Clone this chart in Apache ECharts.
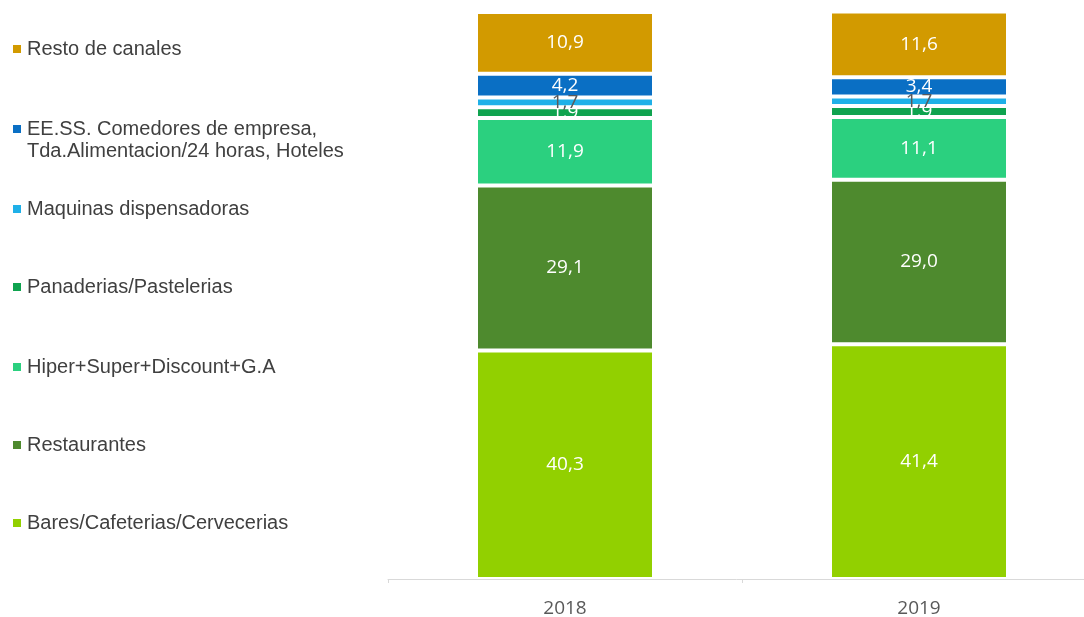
<!DOCTYPE html>
<html>
<head>
<meta charset="utf-8">
<script src="https://cdn.jsdelivr.net/npm/echarts@6/dist/echarts.min.js"></script>
<style>html,body{margin:0;padding:0;background:#fff;}#c{width:1084px;height:617px;}</style>
</head>
<body>
<div id="c"></div>
<script>
const years = ['2018', '2019'];
const seriesNames = [
  'Bares/Cafeterias/Cervecerias',
  'Restaurantes',
  'Hiper+Super+Discount+G.A',
  'Panaderias/Pastelerias',
  'Maquinas dispensadoras',
  'EE.SS. Comedores de empresa,\nTda.Alimentacion/24 horas, Hoteles',
  'Resto de canales'
];
const bares = [40.3, 41.4];
const restaurantes = [29.1, 29.0];
const hiper = [11.9, 11.1];
const panaderias = [1.9, 1.9];
const maquinas = [1.7, 1.7];
const eess = [4.2, 3.4];
const resto = [10.9, 11.6];

const values = [bares, restaurantes, hiper, panaderias, maquinas, eess, resto];
const colors = ['#92D000', '#4E8A2E', '#2BD07F', '#0FA34F', '#1FB0E8', '#0A6FC4', '#D29A00'];
const labelColors = ['#fff', '#fff', '#fff', '#fff', '#5a5a5a', '#fff', '#fff'];
const legendCenters = [523, 445, 367, 287, 209, 129, 49];

const chart = echarts.init(document.getElementById('c'), null, {renderer: 'canvas'});

const series = seriesNames.map((name, i) => ({
  name: name,
  type: 'bar',
  stack: 'total',
  barWidth: 178,
  data: values[i],
  itemStyle: {color: colors[i], borderColor: '#ffffff', borderWidth: 2},
  label: {
    show: true,
    position: 'inside',
    color: labelColors[i],
    fontFamily: 'Open Sans',
    fontSize: 19,
    formatter: p => p.value.toFixed(1).replace('.', ',')
  },
  emphasis: {disabled: true}
}));

const LH = 22;
const legends = seriesNames.map((name, i) => {
  const twoLine = name.indexOf('\n') >= 0;
  return {
    data: [name],
    left: 11,
    top: twoLine ? legendCenters[i] - LH * 1.5 : legendCenters[i] - LH / 2,
    icon: 'rect',
    itemWidth: 10,
    itemHeight: 10,
    itemGap: 0,
    selectedMode: false,
    padding: 0,
    formatter: twoLine ? (n => '\u00a0\n' + n) : undefined,
    textStyle: {
      color: '#404040',
      fontFamily: 'Liberation Sans',
      fontSize: 20,
      lineHeight: LH,
      padding: [0, 0, 0, 0]
    }
  };
});

chart.setOption({
  animation: false,
  backgroundColor: '#ffffff',
  legend: legends,
  grid: {left: 388, width: 708, top: 12, bottom: 38, containLabel: false, outerBoundsMode: 'none'},
  xAxis: {
    type: 'category',
    data: years,
    axisLine: {lineStyle: {color: '#d9d9d9', width: 1}},
    axisTick: {show: true, length: 4, lineStyle: {color: '#d9d9d9'}},
    axisLabel: {color: '#595959', fontFamily: 'Open Sans', fontSize: 19, margin: 20}
  },
  yAxis: {
    type: 'value',
    min: 0,
    max: 100,
    show: false,
    splitLine: {show: false}
  },
  series: series
});
</script>
</body>
</html>
